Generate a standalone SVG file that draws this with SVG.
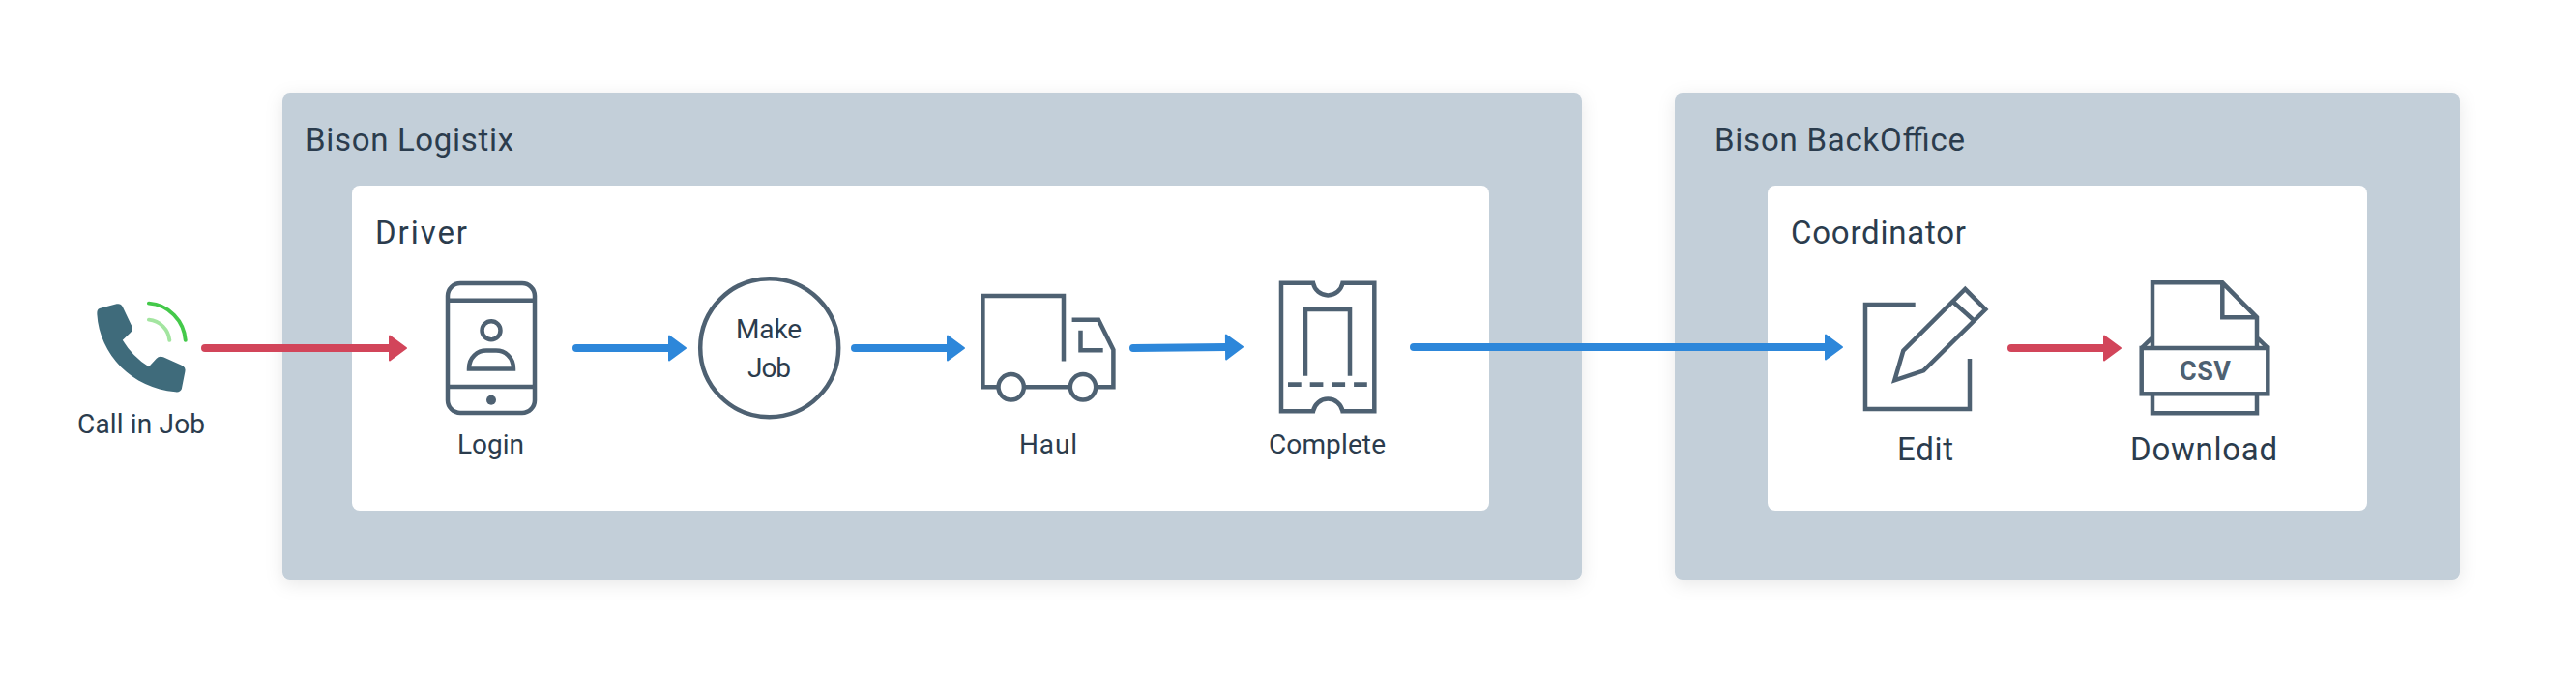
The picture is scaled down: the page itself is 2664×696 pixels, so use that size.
<svg xmlns="http://www.w3.org/2000/svg" width="2664" height="696" viewBox="0 0 2664 696">
<style>
text{font-family:"Roboto","Liberation Sans",sans-serif;fill:#2b3c4d}
.t{font-size:33px}.s{font-size:28px}
.i{fill:none;stroke:#4e6172;stroke-width:4.5;stroke-miterlimit:10}
.outer{fill:#c3cfd9;filter:url(#sh)}.inner{fill:#fff}
.c{fill:none;stroke-width:8;stroke-linecap:round}
.r{stroke:#d2455a;marker-end:url(#mr)}.b{stroke:#2d87da;marker-end:url(#mb)}
</style>
<defs>
<filter id="sh" x="-5%" y="-10%" width="110%" height="120%"><feDropShadow dx="0" dy="4" stdDeviation="9" flood-color="#000" flood-opacity=".09"/></filter>
<marker id="mr" markerUnits="userSpaceOnUse" markerWidth="24" markerHeight="30" refX="2" refY="15" orient="auto"><path d="M2 2.5V27.5L19 15Z" fill="#d2455a" stroke="#d2455a" stroke-width="2" stroke-linejoin="round"/></marker>
<marker id="mb" markerUnits="userSpaceOnUse" markerWidth="24" markerHeight="30" refX="2" refY="15" orient="auto"><path d="M2 2.5V27.5L19 15Z" fill="#2d87da" stroke="#2d87da" stroke-width="2" stroke-linejoin="round"/></marker>
</defs>
<rect width="2664" height="696" fill="#fff"/>
<g id="bison-logistix"><rect class="outer" x="292" y="96" width="1344" height="504" rx="8"/><text class="t" x="316" y="156" textLength="215">Bison Logistix</text></g>
<g id="driver"><rect class="inner" x="364" y="192" width="1176" height="336" rx="8"/><text class="t" x="388" y="252" textLength="95">Driver</text></g>
<g id="bison-backoffice"><rect class="outer" x="1732" y="96" width="812" height="504" rx="8"/><text class="t" x="1773" y="156" textLength="259">Bison BackOffice</text></g>
<g id="coordinator"><rect class="inner" x="1828" y="192" width="620" height="336" rx="8"/><text class="t" x="1852" y="252" textLength="181">Coordinator</text></g>
<g id="connectors">
<line class="c r" x1="212" y1="360" x2="403" y2="360"/>
<line class="c b" x1="596" y1="360" x2="692" y2="360"/>
<line class="c b" x1="884" y1="360" x2="980" y2="360"/>
<line class="c b" x1="1172" y1="360" x2="1268" y2="359"/>
<line class="c b" x1="1462" y1="359" x2="1888" y2="359"/>
<line class="c r" x1="2080" y1="360" x2="2176" y2="360"/>
</g>
<g id="call-in-job">
<g transform="translate(60 270) scale(.3571 .3333)"><path fill="#3f6b7b" d="M120 147L170 133Q182 130 187 142L215 205Q218 214 210 222L187 245Q215 295 263 328L285 302Q293 293 305 298L358 323Q371 330 368 343L358 397Q354 408 340 406C215 395 120 290 113 165Q112 150 120 147Z"/>
<path fill="none" stroke="#44c94a" stroke-width="11" stroke-linecap="round" d="M263 131C320 135 365 185 369 246"/>
<path fill="none" stroke="#a3e5a0" stroke-width="11" stroke-linecap="round" d="M263 182C295 185 320 212 323 246"/></g>
<text class="s" x="80" y="448" textLength="132">Call in Job</text></g>
<g id="login">
<rect class="i" x="463" y="293" width="90" height="134" rx="13"/>
<path class="i" d="M463 310.7H553M463 400H553M485 381.5C485 369 494 362.5 503 362.5H513C522 362.5 531 369 531 381.5Z"/>
<circle class="i" cx="508" cy="341.7" r="9.5"/>
<circle cx="508" cy="413.7" r="5" fill="#4e6172"/>
<text class="s" x="473" y="469" textLength="69">Login</text></g>
<g id="make-job">
<circle class="i" cx="795.7" cy="359.7" r="71.5"/>
<text class="s" x="761" y="350" textLength="68">Make</text>
<text class="s" x="773" y="390" textLength="45">Job</text></g>
<g id="haul">
<path class="i" d="M1100 373.5V306H1016.4V400.3H1032.5M1059 400.3H1107M1133.2 400.3H1151.4V361.7L1136 330.7H1108.6M1117.5 341.7V362.3H1140.7"/>
<circle class="i" cx="1045.7" cy="400.3" r="13.2"/><circle class="i" cx="1120" cy="400.3" r="13.2"/>
<text class="s" x="1054" y="469" textLength="60">Haul</text></g>
<g id="complete">
<path class="i" d="M1358 292.7A15.5 15.5 0 0 0 1388.5 292.7H1421.3V425.3H1388.5A15.5 15.5 0 0 0 1358 425.3H1325V292.7Z"/>
<path class="i" d="M1350 388.7V320H1396V388.7"/>
<path class="i" stroke-dasharray="13.7 9" style="stroke-width:4.7" d="M1332 397.7H1414"/>
<text class="s" x="1312" y="469" textLength="121">Complete</text></g>
<g id="edit">
<path class="i" d="M1980.7 315H1929V423H2037V371"/>
<path class="i" d="M1959.3 393.3L1968.3 362.7L2032.3 299L2053.3 320L1989.3 383.3ZM2019.3 311.7L2041.7 331.7"/>
<text class="t" x="1962" y="476" textLength="58">Edit</text></g>
<g id="download">
<path class="i" d="M2226 360V292.3H2298.3L2334 328.3V360M2298.3 292.3V328.3H2334M2214.7 360L2226 349M2345.3 360L2334 349M2226 407.3V427.3H2334V407.3"/>
<rect class="i" x="2214.7" y="360" width="130.6" height="47.3"/>
<text x="2254" y="393" textLength="53" font-size="27" font-weight="700" style="fill:#4e6172">CSV</text>
<text class="t" x="2203" y="476" textLength="152">Download</text></g>
</svg>
